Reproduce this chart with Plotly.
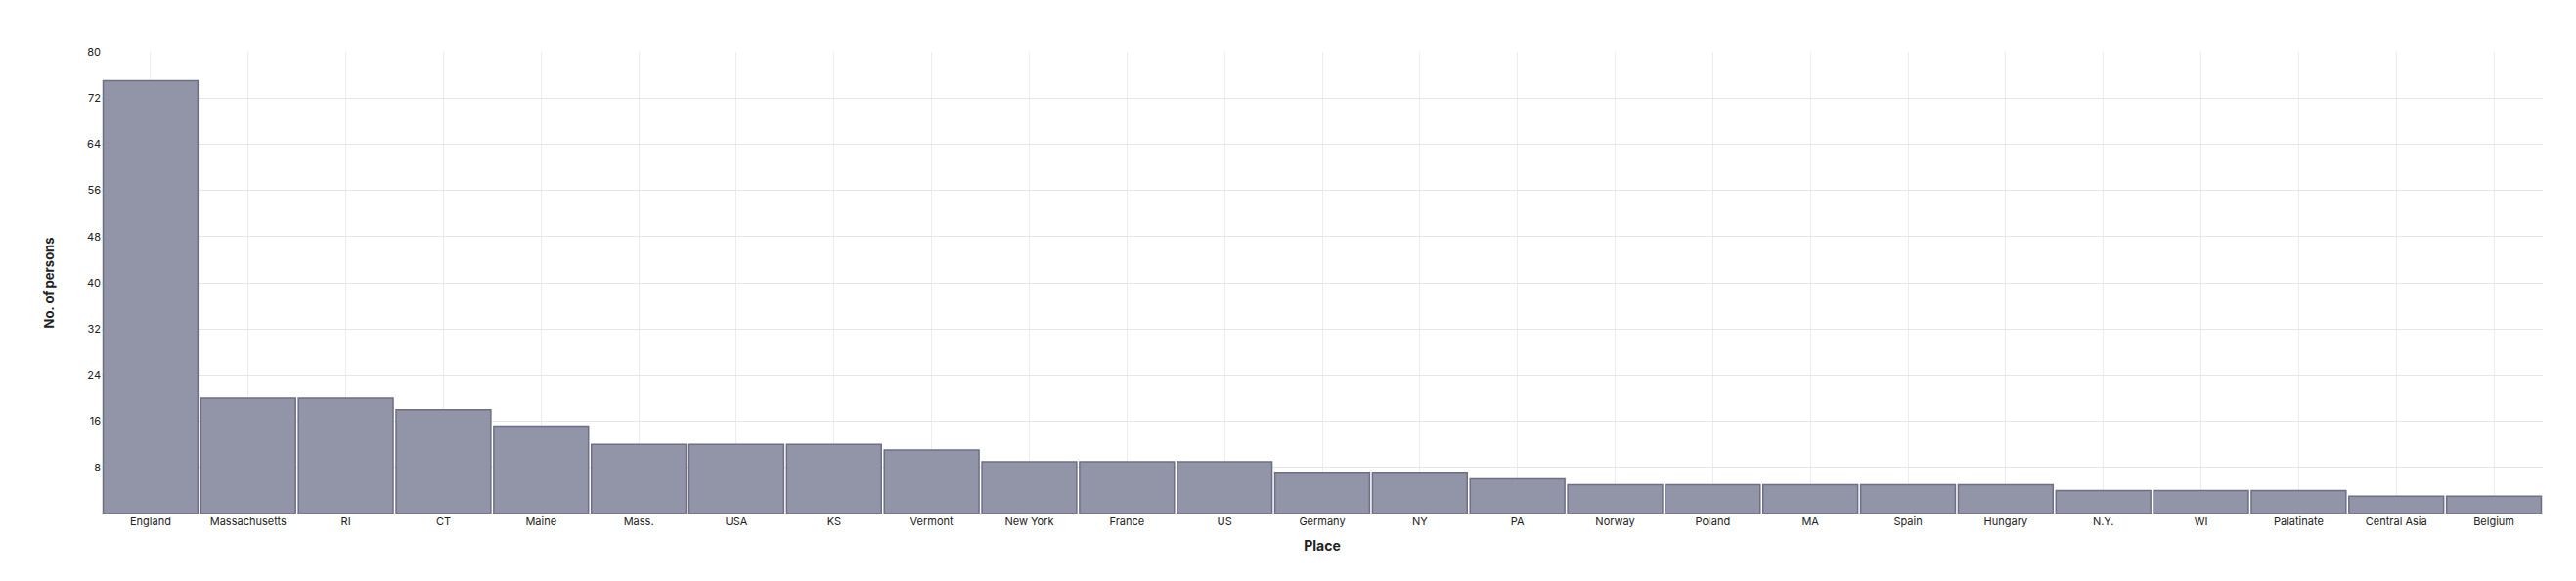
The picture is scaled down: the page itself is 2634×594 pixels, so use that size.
import plotly.graph_objects as go

places = ["England","Massachusetts","RI","CT","Maine","Mass.","USA","KS","Vermont","New York",
          "France","US","Germany","NY","PA","Norway","Poland","MA","Spain","Hungary",
          "N.Y.","WI","Palatinate","Central Asia","Belgium"]
persons = [75,20,20,18,15,12,12,12,11,9,9,9,7,7,6,5,5,5,5,5,4,4,4,3,3]

fig = go.Figure(go.Bar(x=places, y=persons, marker=dict(color="#9294a8", line=dict(color="#6e6f85", width=1.5))))
fig.update_layout(
    width=2634, height=594, plot_bgcolor="white", paper_bgcolor="white",
    margin=dict(l=96, r=42, t=45, b=77), bargap=0.03,
    font=dict(family="Inter, DejaVu Sans", size=12, color="#222"),
)
fig.update_xaxes(title=dict(text="<b>Place</b>", font=dict(size=14), standoff=14),
                 showgrid=True, gridcolor="#ececec", ticks="", tickfont=dict(size=11))
fig.update_xaxes(showline=False)
fig.update_yaxes(title=dict(text="<b>No. of persons</b>", font=dict(size=13), standoff=30),
                 range=[0,80], dtick=8, showgrid=True, gridcolor="#e6e6e6", zeroline=False,
                 tickvals=[8,16,24,32,40,48,56,64,72,80], tickfont=dict(size=11))
fig.write_html("out.html")
